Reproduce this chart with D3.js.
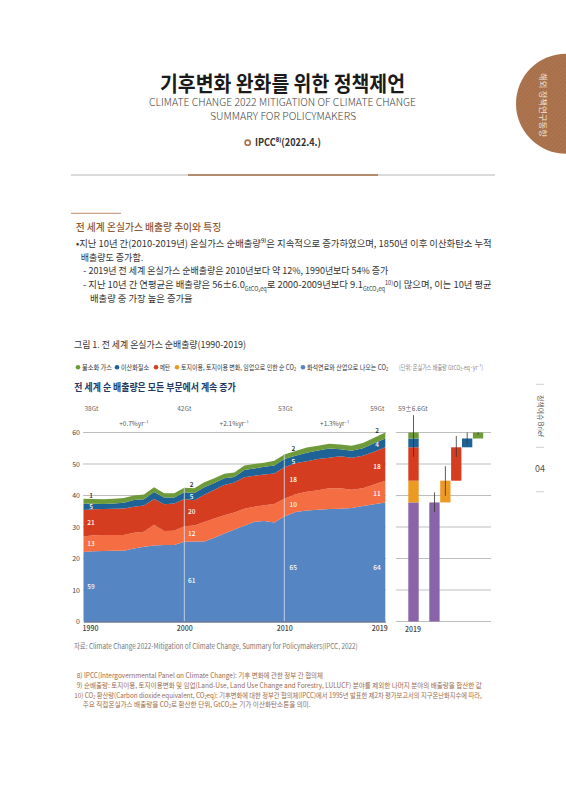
<!DOCTYPE html>
<html>
<head>
<meta charset="utf-8">
<script src="https://cdn.jsdelivr.net/npm/d3@7"></script>
<style>
  html, body { margin: 0; padding: 0; background: #fff; }
  svg { display: block; }
  text { font-family: "Noto Sans CJK KR", "Noto Sans", sans-serif; }
</style>
</head>
<body>
<svg id="page" width="566" height="800"></svg>
<script>
var years = d3.range(1990, 2020);
var fossil = [22.1,22.3,22.4,22.5,22.5,23.2,23.7,24.1,24.3,24.3,25.3,25.4,25.4,26.6,27.9,29.2,30.4,31.7,31.9,31.4,33.3,34.8,35.2,35.5,35.7,35.8,36.0,36.7,37.2,37.8];
var lulucf = [4.9,5.1,5.1,5.0,5.0,5.0,4.8,6.6,4.4,4.5,4.9,5.1,6.2,6.1,5.8,5.4,5.4,4.7,5.0,5.9,5.7,5.6,6.0,6.2,6.6,6.5,5.8,5.6,6.3,6.9];
var methane = [8.4,8.2,8.2,8.3,8.4,8.2,8.3,8.2,8.5,8.7,8.7,8.0,8.6,9.1,9.6,9.5,10.0,9.9,9.8,9.7,10.0,9.8,9.7,9.9,9.7,10.2,10.2,10.3,10.4,10.6];
var no2 = [2.1,1.8,1.6,1.7,1.8,2.2,2.0,2.2,2.2,1.9,2.1,2.3,2.4,2.2,2.2,1.8,2.3,2.3,2.4,2.5,2.6,2.4,2.7,2.7,2.9,2.2,2.2,2.4,2.7,2.8];
var fgas = [1.5,1.5,1.5,1.5,1.5,1.4,1.5,1.5,1.3,1.3,1.5,1.5,1.6,1.5,1.4,1.4,1.4,1.4,1.3,1.5,1.4,1.5,1.6,1.5,1.5,1.5,1.6,1.7,1.7,1.9];
var seriesNames = ['fossil','lulucf','methane','no2','fgas'];
var seriesColors = ['#5585c2','#f46d43','#d43d20','#1f6296','#6f9a3a'];

var yTicks = [0,10,20,30,40,50,60];
var xTicks = [1990,2000,2010,2019];
var totals = [['38Gt',1990,8],['42Gt',2000,0],['53Gt',2010,1],['59Gt',2019,-8]];
var rates = [['+0.7%yr⁻¹',1995],['+2.1%yr⁻¹',2005],['+1.3%yr⁻¹',2014.5]];
var shareLabels = [
  [1990,7.5,[['59',11],['13',24.6],['21',31.4],['5',36.4],['1',40]]],
  [2000,7.4,[['61',13],['12',28],['20',34.9],['5',39.8],['2',43.6]]],
  [2010,9,[['65',17],['10',37],['18',45],['5',50.7],['2',54.8]]],
  [2019,-8.3,[['64',17],['11',40.5],['18',49.2],['4',56.3],['2',60.5]]]
];

var wfSlots = [0,2,3,4,5,6];
var wfStart = [0,0,37.8,44.7,55.3,58.1];
var wfEnd = [37.8,37.8,44.7,55.3,58.1,60];
var wfLow = [52.3,34.8,39.9,52.3,56.3,59.3];
var wfHigh = [65.5,41,49.3,58.9,60,60];
var wfColors = ['#8964a9','#8964a9','#ec9a22','#d43d20','#1f6296','#6f9a3a'];
var stackStart = [0,37.8,44.7,55.3,58.1];
var stackEnd = [37.8,44.7,55.3,58.1,60];
var stackColors = ['#8964a9','#ec9a22','#d43d20','#1f6296','#6f9a3a'];

var legendItems = [
  ['불소화 가스','#6f9a3a',78,30],
  ['이산화질소','#1f6296',117,28],
  ['메탄','#d43d20',156,10],
  ['토지이용, 토지이용 변화, 임업으로 인한 순 CO₂','#ec9a22',177,115],
  ['화석연료와 산업으로 나오는 CO₂','#5585c2',303,81]
];

var bodyLines = [
  ['•지난 10년 간(2010-2019년) 온실가스 순배출량⁹⁾은 지속적으로 증가하였으며, 1850년 이후 이산화탄소 누적',76,246.5,415.7],
  ['배출량도 증가함.',80.7,261,62.5],
  ['- 2019년 전 세계 온실가스 순배출량은 2010년보다 약 12%, 1990년보다 54% 증가',83.3,274,305],
  ['- 지난 10년 간 연평균은 배출량은 56±6.0{_GtCO₂eq}로 2000-2009년보다 9.1{_GtCO₂eq}{^10)}이 많으며, 이는 10년 평균',83,288.3,408.7],
  ['배출량 중 가장 높은 증가율',90,302.3,102.7]
];
var noteLines = [
  ['8) IPCC(Intergovernmental Panel on Climate Change): 기후 변화에 관한 정부 간 협의체',76.7,678,246.3],
  ['9) 순배출량: 토지이용, 토지이용변화 및 임업(Land-Use, Land Use Change and Forestry, LULUCF) 분야를 제외한 나머지 분야의 배출량을 합산한 값',76.7,688,405],
  ['10) CO₂ 환산량(Carbon dioxide equivalent, CO₂eq): 기후변화에 대한 정부간 협의체(IPCC)에서 1995년 발표한 제2차 평가보고서의 지구온난화지수에 따라,',74.3,697.5,407.4],
  ['주요 직접온실가스 배출량을 CO₂로 환산한 단위, GtCO₂는 기가 이산화탄소톤을 의미.',82.7,707,228]
];

var svg = d3.select('#page');

// {_x} is subscript, {^x} is superscript
function label(x, y, str, size, color, width, opts) {
  opts = opts || {};
  var t = svg.append('text')
    .attr('x', x).attr('y', y)
    .attr('font-size', size)
    .attr('fill', color)
    .attr('font-weight', opts.weight || 400)
    .attr('text-anchor', opts.anchor || 'start');
  var parts = str.split(/(\{[_^][^}]*\})/);
  var shift = 0;
  if (parts.length === 1) {
    t.text(str);
  } else {
    parts.forEach(function(p){
      if (!p) return;
      var m = p.match(/^\{([_^])(.*)\}$/);
      var target = m ? (m[1] === '_' ? size * 0.25 : -size * 0.35) : 0;
      var s = t.append('tspan').attr('dy', target - shift).text(m ? m[2] : p);
      if (m) s.attr('font-size', size * 0.6);
      shift = target;
    });
  }
  if (width) t.attr('textLength', width).attr('lengthAdjust', 'spacingAndGlyphs');
  return t;
}

// header
label(282.5, 90.5, '기후변화 완화를 위한 정책제언', 21, '#1a1a1a', 245, {anchor:'middle', weight:700});
label(282.5, 105.5, 'CLIMATE CHANGE 2022 MITIGATION OF CLIMATE CHANGE', 11, '#444', 267, {anchor:'middle', weight:300});
label(283, 120, 'SUMMARY FOR POLICYMAKERS', 11, '#444', 146, {anchor:'middle', weight:300});
svg.append('circle').attr('cx', 247.7).attr('cy', 142.7).attr('r', 2.6).attr('fill', 'none').attr('stroke', '#a8704a').attr('stroke-width', 1.6);
label(255, 146.3, 'IPCC⁸⁾(2022.4.)', 10, '#333', 66, {weight:700});

svg.append('line').attr('x1', 71).attr('x2', 495).attr('y1', 175).attr('y2', 175).attr('stroke', '#b5b5b5').attr('stroke-width', 1);
svg.append('line').attr('x1', 188).attr('x2', 378).attr('y1', 175).attr('y2', 175).attr('stroke', '#a8704a').attr('stroke-width', 1.6);

// side tab
var defs = svg.append('defs');
var pat = defs.append('pattern').attr('id', 'hatch').attr('width', 3).attr('height', 3)
  .attr('patternUnits', 'userSpaceOnUse').attr('patternTransform', 'rotate(45)');
pat.append('rect').attr('width', 3).attr('height', 3).attr('fill', '#a8704a');
pat.append('line').attr('x1', 0).attr('x2', 0).attr('y1', 0).attr('y2', 3).attr('stroke', '#b27d58').attr('stroke-width', 1);
svg.append('circle').attr('cx', 566).attr('cy', 103.7).attr('r', 50).attr('fill', 'url(#hatch)');
svg.append('text').attr('transform', 'translate(539.5,105) rotate(90)')
  .attr('font-size', 8).attr('fill', '#f3e6da').attr('text-anchor', 'middle')
  .attr('textLength', 64).attr('lengthAdjust', 'spacingAndGlyphs').text('해외 정책연구동향');

// right margin
svg.selectAll('line.margin').data([384.3,447.3,491.7]).enter().append('line').attr('class', 'margin')
  .attr('x1', 536).attr('x2', 544).attr('y1', function(d){ return d; }).attr('y2', function(d){ return d; })
  .attr('stroke', '#c4c4c4').attr('stroke-width', 0.8);
svg.append('text').attr('transform', 'translate(537.5,416) rotate(90)')
  .attr('font-size', 7).attr('fill', '#555').attr('text-anchor', 'middle')
  .attr('textLength', 42).attr('lengthAdjust', 'spacingAndGlyphs').text('정책이슈 Brief');
label(540, 472.3, '04', 9, '#555', null, {anchor:'middle'});

// section text
svg.append('line').attr('x1', 71).attr('x2', 121).attr('y1', 213.3).attr('y2', 213.3).attr('stroke', '#a8704a').attr('stroke-width', 0.8);
label(75.7, 231, '전 세계 온실가스 배출량 추이와 특징', 10.5, '#8f5a38', 145.5, {weight:500});
bodyLines.forEach(function(d){ label(d[1], d[2], d[0], 9.5, '#333', d[3]); });
label(74, 347.5, '그림 1. 전 세계 온실가스 순배출량(1990-2019)', 9.5, '#333', 172);

// legend
legendItems.forEach(function(d){
  svg.append('circle').attr('cx', d[2]).attr('cy', 367.2).attr('r', 2.3).attr('fill', d[1]);
  label(d[2] + 4, 369.7, d[0], 7.2, '#333', d[3]);
});
label(399, 369.7, '(단위: 온실가스 배출량 GtCO₂-eq·yr⁻¹)', 6.8, '#888', 84);
label(74.3, 391, '전 세계 순 배출량은 모든 부문에서 계속 증가', 10.5, '#22385f', 161.4, {weight:700});

// scales
var y = d3.scaleLinear().domain([0, 60]).range([621.5, 432.5]);
var x = d3.scaleLinear().domain([1990, 2000, 2010, 2019]).range([83.5, 184.3, 284.3, 385.3]);
var wfX = d3.scaleLinear().domain([0, 2, 6]).range([408.3, 429.3, 472.9]);

// gridlines left and right
var grid = svg.append('g');
grid.selectAll('line.left').data(yTicks.slice(1)).enter().append('line').attr('class', 'left')
  .attr('x1', 83).attr('x2', 386).attr('y1', y).attr('y2', y).attr('stroke', '#bdbdbd').attr('stroke-width', 1);
grid.selectAll('line.right').data(yTicks).enter().append('line').attr('class', 'right')
  .attr('x1', 396).attr('x2', 491).attr('y1', y).attr('y2', y).attr('stroke', '#bdbdbd').attr('stroke-width', 1);

// stacked area
var rows = years.map(function(yr, i){
  return {year: yr, fossil: fossil[i], lulucf: lulucf[i], methane: methane[i], no2: no2[i], fgas: fgas[i]};
});
var stacked = d3.stack().keys(seriesNames)(rows);
var area = d3.area()
  .x(function(d){ return x(d.data.year); })
  .y0(function(d){ return y(d[0]); })
  .y1(function(d){ return y(d[1]); });
svg.append('g').selectAll('path').data(stacked).enter().append('path')
  .attr('d', area)
  .attr('fill', function(d, i){ return seriesColors[i]; });

// year guide lines
svg.selectAll('line.guide').data([2000, 2010]).enter().append('line').attr('class', 'guide')
  .attr('x1', x).attr('x2', x)
  .attr('y1', function(d){ var i = years.indexOf(d); return y(fossil[i]+lulucf[i]+methane[i]+no2[i]+fgas[i]); })
  .attr('y2', y(0))
  .attr('stroke', '#d9e2ee').attr('stroke-width', 0.8);

// axes
var yAxis = d3.axisLeft(y).tickValues(yTicks).tickSize(0).tickPadding(3);
var yG = svg.append('g').attr('transform', 'translate(83,0)').call(yAxis);
yG.select('.domain').remove();
yG.selectAll('text').attr('font-size', 7).attr('fill', '#444').attr('font-family', '"Noto Sans CJK KR"');

var xAxis = d3.axisBottom(x).tickValues(xTicks).tickSize(0).tickPadding(5).tickFormat(d3.format('d'));
var xG = svg.append('g').attr('transform', 'translate(0,621.5)').call(xAxis);
xG.select('.domain').attr('stroke', '#22385f').attr('stroke-width', 1.2);
xG.selectAll('text').attr('font-size', 7).attr('font-weight', 500).attr('fill', '#444').attr('font-family', '"Noto Sans CJK KR"')
  .attr('dx', function(d){ return d === 2019 ? -6 : (d === 1990 ? 6.5 : 0); });

label(413, 632, '2019', 7, '#444', null, {anchor:'middle', weight:500});

// totals and rates
totals.forEach(function(d){
  label(x(d[1]) + d[2], 410.5, d[0], 6.5, '#666', null, {anchor:'middle'});
});
rates.forEach(function(d){
  label(x(d[1]), 426, d[0], 6.5, '#555', null, {anchor:'middle'});
});
label(413, 410.5, '59±6.6Gt', 6.5, '#666', null, {anchor:'middle'});

// share labels
shareLabels.forEach(function(group){
  group[2].forEach(function(d, i){
    label(x(group[0]) + group[1], y(d[1]) + 2.4, d[0], 6.5, i === 4 ? '#222' : '#fff', null, {anchor:'middle', weight:500});
  });
});

// waterfall
svg.append('g').selectAll('rect').data(stackStart).enter().append('rect')
  .attr('x', wfX(0)).attr('width', 10.4)
  .attr('y', function(d, i){ return y(stackEnd[i]); })
  .attr('height', function(d, i){ return y(d) - y(stackEnd[i]); })
  .attr('fill', function(d, i){ return stackColors[i]; });
svg.append('g').selectAll('rect').data(wfSlots.slice(1)).enter().append('rect')
  .attr('x', wfX).attr('width', 10.3)
  .attr('y', function(d, i){ return y(wfEnd[i + 1]); })
  .attr('height', function(d, i){ return y(wfStart[i + 1]) - y(wfEnd[i + 1]); })
  .attr('fill', function(d, i){ return wfColors[i + 1]; });
svg.append('g').selectAll('line').data(wfSlots).enter().append('line')
  .attr('x1', function(d){ return wfX(d) + 5.2; })
  .attr('x2', function(d){ return wfX(d) + 5.2; })
  .attr('y1', function(d, i){ return y(wfLow[i]); })
  .attr('y2', function(d, i){ return y(wfHigh[i]); })
  .attr('stroke', '#333').attr('stroke-width', 0.8);

// source and notes
label(74, 649, '자료: Climate Change 2022-Mitigation of Climate Change, Summary for Policymakers(IPCC, 2022)', 7.6, '#777', 283.7);
noteLines.forEach(function(d){ label(d[1], d[2], d[0], 7, '#9a6a4c', d[3]); });
</script>
</body>
</html>
